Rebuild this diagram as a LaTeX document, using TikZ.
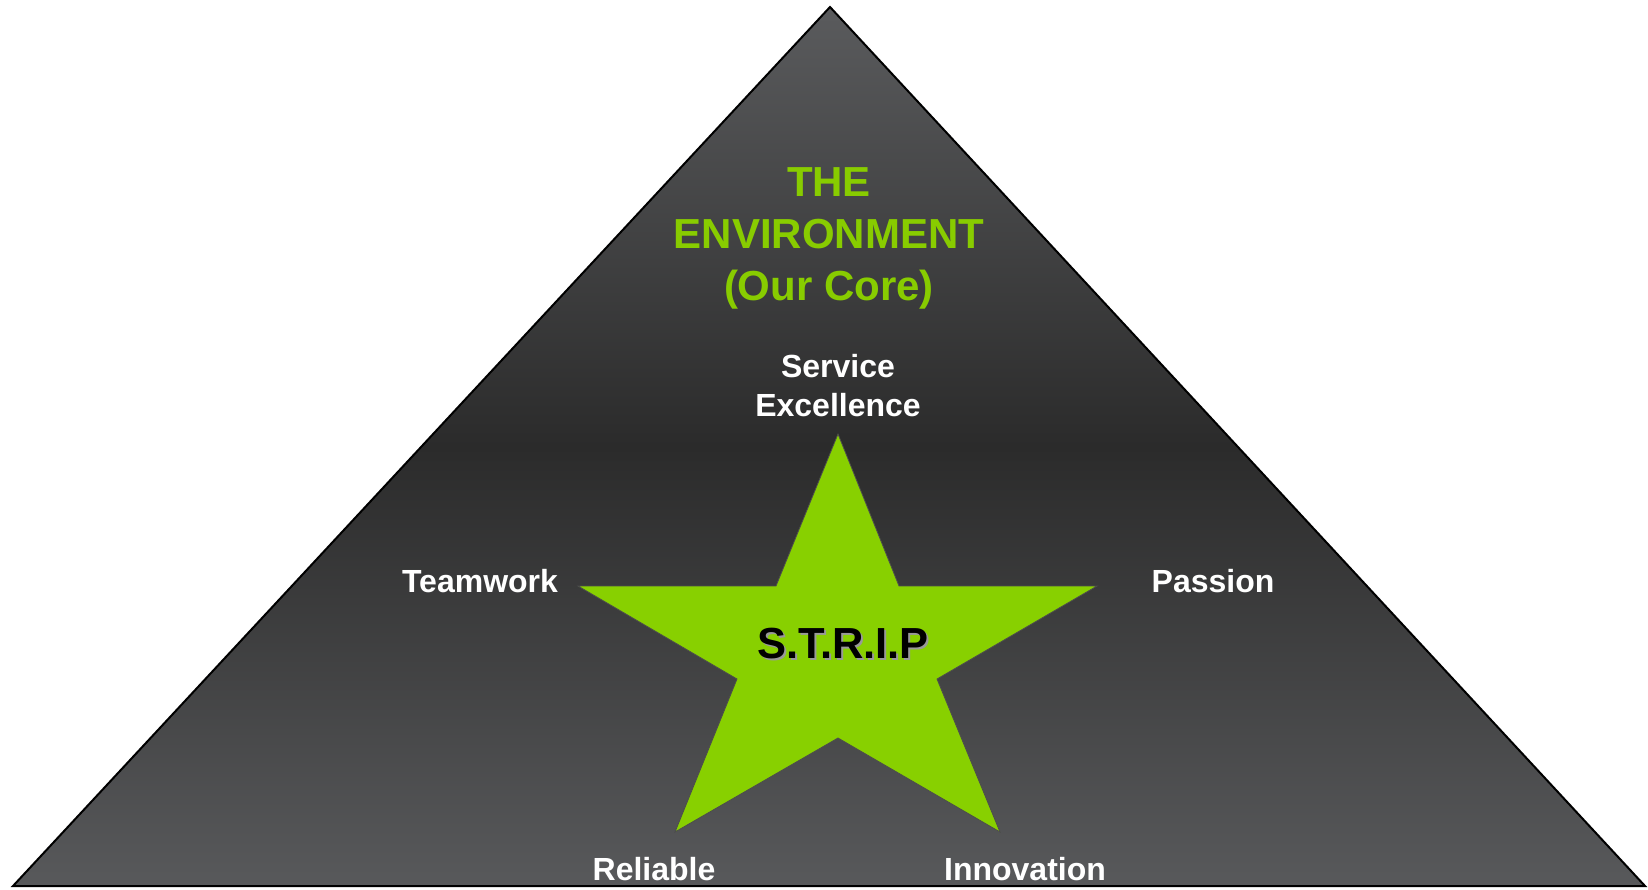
\documentclass[tikz,border=0pt]{standalone}
\usepackage{fontspec}
\setmainfont{Liberation Sans}
\usepackage{xcolor}
\usetikzlibrary{positioning}
\definecolor{limegreen}{RGB}{136,208,0}
\definecolor{coregreen}{RGB}{136,204,0}
\definecolor{slatetop}{RGB}{90,91,93}
\definecolor{slatemid}{RGB}{43,43,43}
\definecolor{slatebot}{RGB}{88,89,91}
\tikzset{
  pyramid/.style={draw=black, line width=2pt, line join=miter, top color=slatetop, bottom color=slatebot, middle color=slatemid},
  starshape/.style={draw=black!70, line width=0.8pt, fill=limegreen},
  corelabel/.style={font=\fontsize{42}{52}\selectfont\bfseries, text=coregreen, align=center},
  valuelabel/.style={font=\fontsize{32}{39}\selectfont\bfseries, text=white, align=center},
  striplabel/.style={font=\fontsize{43.5}{50}\selectfont\bfseries, text=black},
  stripshade/.style={font=\fontsize{43.5}{50}\selectfont\bfseries, text=black!40}
}
\begin{document}
\begin{tikzpicture}[x=1pt, y=-1pt]
\useasboundingbox (0,0) rectangle (1648,889);

% Shapes
\draw[pyramid] (830,7) -- (1645,886) -- (13,886) -- cycle;
\draw[starshape] (838,434) -- (899,586) -- (1097,586) -- (937,679) -- (1000,832)
  -- (838,738) -- (675,832) -- (737,679) -- (578,586) -- (776,586) -- cycle;

% Nodes
\node[corelabel] (core) at (829,238) {THE\\ENVIRONMENT\\(Our Core)};
\node[valuelabel] (service) at (838,386) {Service\\Excellence};
\node[valuelabel] (teamwork) at (480,581) {Teamwork};
\node[valuelabel] (passion) at (1213,581) {Passion};
\node[valuelabel] (reliable) at (654,869) {Reliable};
\node[valuelabel] (innovation) at (1025,869) {Innovation};
\node[stripshade] (stripshadow) at (845,646) {S.T.R.I.P};
\node[striplabel] (strip) at (843,644) {S.T.R.I.P};

\end{tikzpicture}
\end{document}
